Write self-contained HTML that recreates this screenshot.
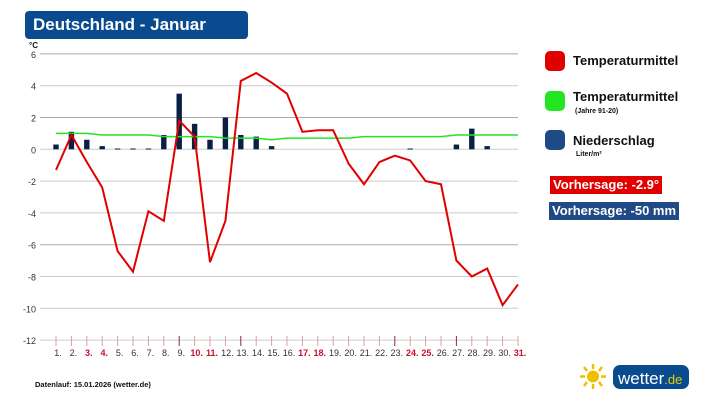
<!DOCTYPE html>
<html><head><meta charset="utf-8"><style>
body{margin:0;width:717px;height:403px;background:#fff;font-family:"Liberation Sans",sans-serif;overflow:hidden;position:relative}
.title{position:absolute;left:25px;top:11px;width:223px;height:28px;background:#0a4a8f;border-radius:4px;color:#fff;font-weight:bold;font-size:17px;line-height:28px;padding-left:8px;box-sizing:border-box}
.leg{position:absolute;font-weight:bold;font-size:13px;color:#111}
.sw{position:absolute;width:20px;height:20px;border-radius:5px}
.sub{position:absolute;font-size:7px;font-weight:bold;color:#111}
.box{position:absolute;color:#fff;font-weight:bold;font-size:13px;height:18px;line-height:18px;padding:0 3px}
</style></head><body>
<div class="title">Deutschland - Januar</div>
<svg id="chart" width="717" height="403" style="position:absolute;left:0;top:0"></svg>
<div class="sw" style="left:545px;top:51px;background:#e00000"></div>
<div class="leg" style="left:573px;top:53px">Temperaturmittel</div>
<div class="sw" style="left:545px;top:91px;background:#22e622"></div>
<div class="leg" style="left:573px;top:89px">Temperaturmittel</div>
<div class="sub" style="left:575px;top:108px">(Jahre 91-20)</div>
<div class="sw" style="left:545px;top:130px;background:#1f4a86"></div>
<div class="leg" style="left:573px;top:133px">Niederschlag</div>
<div class="sub" style="left:576px;top:151px">Liter/m²</div>
<div class="box" style="left:550px;top:176px;background:#e00000">Vorhersage: -2.9°</div>
<div class="box" style="left:549px;top:202px;background:#1f4a86">Vorhersage: -50 mm</div>
<div style="position:absolute;left:35px;top:380px;font-size:7.5px;font-weight:bold;color:#111">Datenlauf: 15.01.2026 (wetter.de)</div>
<svg width="120" height="30" style="position:absolute;left:576px;top:362px">
<g stroke="#f0c000" stroke-width="2.5"><line x1="17" y1="2" x2="17" y2="7"/><line x1="17" y1="22" x2="17" y2="27"/><line x1="4" y1="14.5" x2="9" y2="14.5"/><line x1="25" y1="14.5" x2="30" y2="14.5"/><line x1="8" y1="5" x2="11" y2="9"/><line x1="23" y1="20" x2="26" y2="24"/><line x1="26" y1="5" x2="23" y2="9"/><line x1="11" y1="20" x2="8" y2="24"/></g>
<circle cx="17" cy="14.5" r="6" fill="#f0c000"/>
<rect x="37" y="3" width="76" height="24" rx="7" fill="#0a4a8f"/>
<text x="42" y="22" fill="#fff" font-size="17" font-family="Liberation Sans">wetter<tspan fill="#e6d200" font-size="13">.de</tspan></text>
</svg>
<script>
const days=[1,2,3,4,5,6,7,8,9,10,11,12,13,14,15,16,17,18,19,20,21,22,23,24,25,26,27,28,29,30,31];
const temp=[-1.3,0.9,-0.8,-2.4,-6.4,-7.7,-3.9,-4.5,1.8,0.8,-7.1,-4.5,4.3,4.8,4.2,3.5,1.1,1.2,1.2,-0.9,-2.2,-0.8,-0.4,-0.7,-2.0,-2.2,-7.0,-8.0,-7.5,-9.8,-8.5];
const normal=[1.0,1.0,1.0,0.9,0.9,0.9,0.9,0.8,0.8,0.8,0.8,0.7,0.7,0.7,0.6,0.7,0.7,0.7,0.7,0.7,0.8,0.8,0.8,0.8,0.8,0.8,0.9,0.9,0.9,0.9,0.9];
const precip=[0.3,1.1,0.6,0.2,0.05,0.05,0.05,0.9,3.5,1.6,0.6,2.0,0.9,0.8,0.2,0,0,0,0,0,0,0,0,0.05,0,0,0.3,1.3,0.2,0,0];
const yTicks=[6,4,2,0,-2,-4,-6,-8,-10,-12];
const redDays=[3,4,10,11,17,18,24,25,31];
const darkTicks=[9,13,23,27];
const NS='http://www.w3.org/2000/svg',svg=document.getElementById('chart');
const X=d=>56+(d-1)*15.4, Y=v=>149.3-v*15.9;
function mk(t,a){const e=document.createElementNS(NS,t);for(const k in a)e.setAttribute(k,a[k]);svg.appendChild(e);return e;}
yTicks.forEach(v=>{const l=mk('line',{x1:40,x2:518,y1:Y(v),y2:Y(v),stroke:(v%4==2||v==-6)?'#aaa':'#ccc','stroke-width':1});

const t=mk('text',{x:36,y:Y(v)+4,'text-anchor':'end','font-size':9,fill:'#333','font-family':'Liberation Sans'});t.textContent=v;
});
const u=mk('text',{x:29,y:48,'font-size':8,'font-weight':'bold',fill:'#111','font-family':'Liberation Sans'});u.textContent='°C';

days.forEach((d,i)=>{const dk=darkTicks.includes(d);
const tk=mk('line',{x1:X(d),x2:X(d),y1:336,y2:346,stroke:dk?'#8a2a3a':'#d8a0a8','stroke-width':1});

const t=mk('text',{x:X(d)+2,y:356,'text-anchor':'middle','font-size':9,fill:redDays.includes(d)?'#c8102e':'#333','font-weight':redDays.includes(d)?'bold':'normal','font-family':'Liberation Sans'});t.textContent=d+'.';

if(precip[i]>0){const h=Y(0)-Y(precip[i]);const b=mk('rect',{x:X(d)-2.7,y:Y(precip[i]),width:5.4,height:Math.max(h,1),fill:'#0b1f45'});
}});
const g=mk('polyline',{points:days.map((d,i)=>X(d)+','+Y(normal[i])).join(' '),fill:'none',stroke:'#22e622','stroke-width':1.5});

const r=mk('polyline',{points:days.map((d,i)=>X(d)+','+Y(temp[i])).join(' '),fill:'none',stroke:'#e00000','stroke-width':2});

</script>
</body></html>
